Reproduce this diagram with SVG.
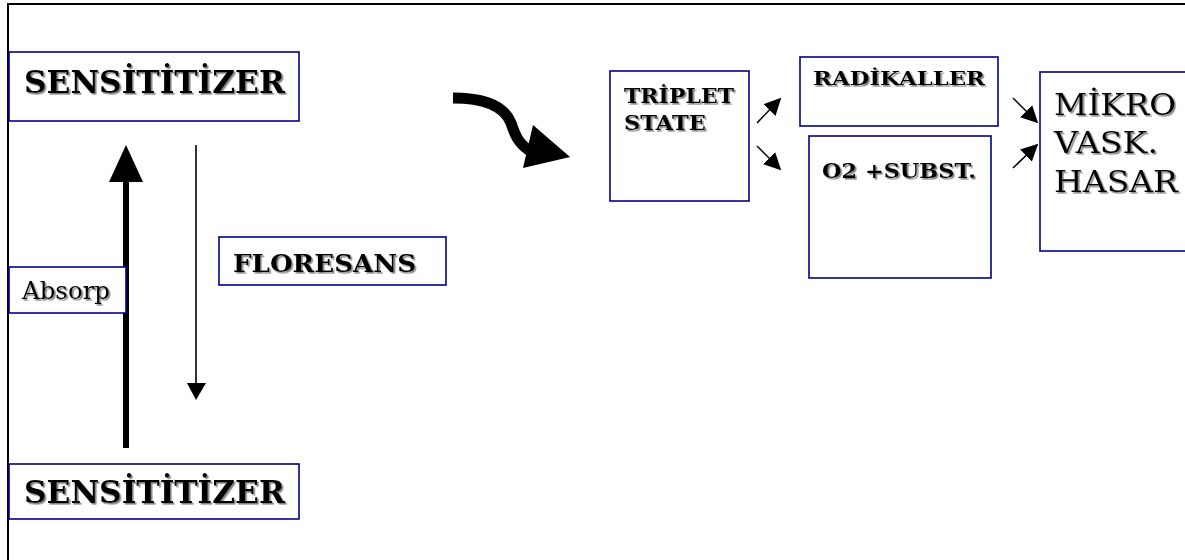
<svg xmlns="http://www.w3.org/2000/svg" width="1185" height="560" viewBox="0 0 1185 560">
<defs>
<filter id="sh" x="-10%" y="-30%" width="120%" height="160%">
<feDropShadow dx="1.6" dy="1.6" stdDeviation="0.4" flood-color="#777" flood-opacity="0.9"/>
</filter>
<marker id="hm" viewBox="0 0 10 10" refX="9" refY="5" markerWidth="17" markerHeight="17" markerUnits="userSpaceOnUse" orient="auto">
<path d="M0,0 L10,5 L0,10 Z" fill="#000"/>
</marker>
</defs>
<style>
.box{fill:#fff;stroke:#00008b;stroke-width:1.6}
.b{font-family:"DejaVu Serif","Liberation Serif",serif;font-weight:bold;fill:#000;filter:url(#sh)}
.r{font-family:"DejaVu Serif","Liberation Serif",serif;fill:#000;filter:url(#sh)}
.ln{stroke:#000;fill:none}
</style>
<rect x="0" y="0" width="1185" height="560" fill="#fff"/>
<path d="M8,560 V4 H1185" fill="none" stroke="#000" stroke-width="2"/>

<g id="connectors">
<line class="ln" x1="126" y1="448" x2="126" y2="182" stroke-width="6"/>
<path d="M126,145 L143,182 L109,182 Z" fill="#000"/>
<line class="ln" x1="196" y1="145" x2="196" y2="384" stroke-width="1.6"/>
<path d="M196,400 L187,383 L206,383 Z" fill="#000"/>
<path class="ln" d="M453,98 C487,98 505,108 511,123 C515,135 518,143 530,151" stroke-width="11"/>
<path d="M533,125 L570,157 L523,168 Z" fill="#000"/>
<line class="ln" x1="757" y1="123" x2="780" y2="99" stroke-width="1.5" marker-end="url(#hm)"/>
<line class="ln" x1="757" y1="146" x2="780" y2="169" stroke-width="1.5" marker-end="url(#hm)"/>
<line class="ln" x1="1013" y1="98" x2="1037" y2="122" stroke-width="1.5" marker-end="url(#hm)"/>
<line class="ln" x1="1013" y1="168" x2="1037" y2="145" stroke-width="1.5" marker-end="url(#hm)"/>
</g>

<g id="sens-top">
<rect class="box" x="9" y="52" width="290" height="69"/>
<text class="b" x="24" y="93" font-size="31" textLength="261" lengthAdjust="spacingAndGlyphs">SENSİTİTİZER</text>
</g>
<g id="sens-bottom">
<rect class="box" x="9" y="464" width="290" height="55"/>
<text class="b" x="24" y="503" font-size="31" textLength="261" lengthAdjust="spacingAndGlyphs">SENSİTİTİZER</text>
</g>
<g id="absorp">
<rect class="box" x="9" y="267" width="117" height="46"/>
<text class="r" x="22" y="299" font-size="24" textLength="88" lengthAdjust="spacingAndGlyphs">Absorp</text>
</g>
<g id="floresans">
<rect class="box" x="219" y="237" width="227" height="48"/>
<text class="b" x="233" y="272" font-size="24" textLength="183" lengthAdjust="spacingAndGlyphs">FLORESANS</text>
</g>
<g id="triplet">
<rect class="box" x="610" y="71" width="139" height="130"/>
<text class="b" x="624" y="103" font-size="20" textLength="110" lengthAdjust="spacingAndGlyphs">TRİPLET</text>
<text class="b" x="624" y="130" font-size="20" textLength="82" lengthAdjust="spacingAndGlyphs">STATE</text>
</g>
<g id="radikaller">
<rect class="box" x="800" y="57" width="198" height="69"/>
<text class="b" x="813" y="85" font-size="19" textLength="172" lengthAdjust="spacingAndGlyphs">RADİKALLER</text>
</g>
<g id="o2subst">
<rect class="box" x="809" y="136" width="182" height="142"/>
<text class="b" x="822" y="178" font-size="20" textLength="154" lengthAdjust="spacingAndGlyphs">O2 +SUBST.</text>
</g>
<g id="mikro">
<rect class="box" x="1040" y="72" width="160" height="179"/>
<text class="r" x="1054" y="115" font-size="30" textLength="122" lengthAdjust="spacingAndGlyphs">MİKRO</text>
<text class="r" x="1054" y="153" font-size="30" textLength="104" lengthAdjust="spacingAndGlyphs">VASK.</text>
<text class="r" x="1054" y="192" font-size="30" textLength="124" lengthAdjust="spacingAndGlyphs">HASAR</text>
</g>
</svg>
